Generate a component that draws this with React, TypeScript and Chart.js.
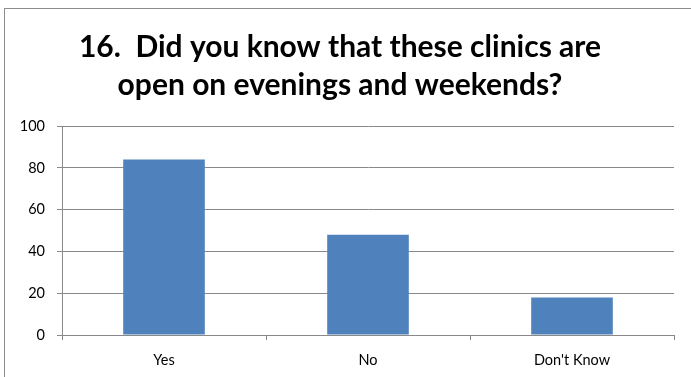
import React, { useEffect, useRef } from "react";
import { Chart, registerables } from "chart.js";

Chart.register(...registerables);

const titleLines = ["16.  Did you know that these clinics are", "open on evenings and weekends?"];
const categories = ["Yes", "No", "Don't Know"];
const responses = [84, 48, 18];
const yTicks = [0, 20, 40, 60, 80, 100];

const FONT = "Lato, 'Open Sans', sans-serif";
const GRID = "#898989";

export default function App() {
  const canvasRef = useRef<HTMLCanvasElement | null>(null);

  useEffect(() => {
    const canvas = canvasRef.current;
    if (!canvas) return;
    const chart = new Chart(canvas, {
      type: "bar",
      data: {
        labels: categories,
        datasets: [
          {
            data: responses,
            backgroundColor: "#4F81BD",
            borderWidth: 0,
            barPercentage: 0.4,
            categoryPercentage: 1,
          },
        ],
      },
      options: {
        animation: false,
        responsive: false,
        maintainAspectRatio: false,
        layout: { padding: { left: 6, right: 17, top: 0, bottom: 0 } },
        plugins: {
          legend: { display: false },
          tooltip: { enabled: false },
          title: {
            display: true,
            text: titleLines,
            color: "#000",
            font: { family: FONT, size: 30, weight: "bold", lineHeight: 1.27 },
            padding: { top: 28, bottom: 22 },
          },
        },
        scales: {
          x: {
            grid: {
              drawOnChartArea: false,
              drawTicks: true,
              tickLength: 5,
              color: GRID,
              offset: true,
            },
            border: { color: GRID, width: 1 },
            ticks: {
              color: "#000",
              font: { family: FONT, size: 14.5 },
              padding: 12,
            },
            afterFit: (scale: any) => {
              scale.height = 42;
            },
          },
          y: {
            min: 0,
            max: 100,
            afterBuildTicks: (scale: any) => {
              scale.ticks = yTicks.map((v) => ({ value: v }));
            },
            grid: {
              color: GRID,
              lineWidth: 1,
              drawTicks: true,
              tickLength: 5,
            },
            border: { color: GRID, width: 1 },
            ticks: {
              color: "#000",
              font: { family: FONT, size: 14.5 },
              padding: 12,
            },
            afterFit: (scale: any) => {
              scale.width = 56;
            },
          },
        },
      },
    });
    return () => chart.destroy();
  }, []);

  return (
    <div style={{ position: "fixed", left: 0, top: 0, width: 691, height: 377, background: "#fff", overflow: "hidden" }}>
      <canvas ref={canvasRef} width={691} height={377} style={{ position: "absolute", left: 0, top: 0 }} />
      <div
        style={{
          position: "absolute",
          left: 4,
          top: 8,
          width: 720,
          height: 420,
          border: "1px solid #8c8c8c",
          pointerEvents: "none",
        }}
      />
    </div>
  );
}
